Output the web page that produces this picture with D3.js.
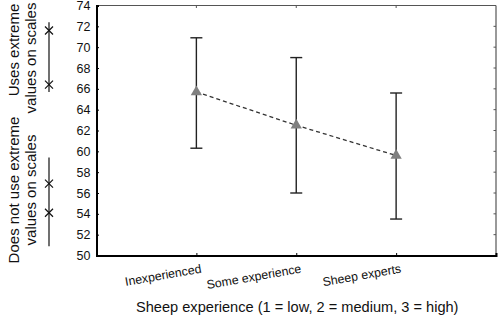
<script src='https://cdn.jsdelivr.net/npm/d3@7'></script>
<style>
  body {margin:0; background:#fff;}
  text {font-family:'Liberation Sans',Arial,sans-serif; fill:#111;}
</style>
<svg id='chart'></svg>
<script>
const categories=['Inexperienced','Some experience','Sheep experts'];
const means=[65.7,62.5,59.6];
const upper=[70.9,69.0,65.6];
const lower=[60.3,56.0,53.5];
const yTicks=d3.range(50,75,2);
// side annotation: extreme-value bars with two marks each
const noteLabels=[['Uses extreme','values on scales'],['Does not use extreme','values on scales']];
const noteRanges=[[65.7,72.4],[50.9,59.4]];
const noteMarks=[[71.6,66.4],[56.9,54.1]];

const W=500,H=319;
var margin={top:5.5,right:4,bottom:63.5,left:96.5},
    width=W-margin.left-margin.right,
    height=H-margin.top-margin.bottom;
var svg=d3.select('#chart').attr('width',W).attr('height',H);
var g=svg.append('g').attr('transform','translate('+margin.left+','+margin.top+')');
var x=d3.scaleLinear().domain([0,4]).range([0,width]),
    y=d3.scaleLinear().domain([50,74]).range([height,0]);

// frame: right and top lighter
g.append('line').attr('x1',0).attr('x2',width).attr('y1',0).attr('y2',0)
 .attr('stroke','#555').attr('stroke-width',1.2);
g.append('line').attr('x1',width).attr('x2',width).attr('y1',0).attr('y2',height)
 .attr('stroke','#555').attr('stroke-width',1.2);
// inner ticks on right and top
g.selectAll('.rt').data(yTicks.slice(1,-1)).enter().append('line')
 .attr('x1',width-2.5).attr('x2',width).attr('y1',d=>y(d)).attr('y2',d=>y(d))
 .attr('stroke','#555');
g.selectAll('.tt').data([1,2,3]).enter().append('line')
 .attr('x1',d=>x(d)).attr('x2',d=>x(d)).attr('y1',0).attr('y2',2.5)
 .attr('stroke','#555');

// left axis
var yAxis=d3.axisLeft(y).tickValues(yTicks).tickSize(-2.5).tickPadding(6);
var ya=g.append('g').call(yAxis);
ya.select('.domain').attr('stroke','#000').attr('stroke-width',2);
ya.selectAll('text').style('font-size','12.5px').attr('fill','#111');

// bottom axis
var xAxis=d3.axisBottom(x).tickValues([1,2,3]).tickSize(-2.5).tickFormat('');
var xa=g.append('g').attr('transform','translate(0,'+height+')').call(xAxis);
xa.select('.domain').attr('stroke','#000').attr('stroke-width',2);
xa.selectAll('.tick line').attr('stroke','#000');
categories.forEach(function(c,i){
  g.append('text').attr('text-anchor','end')
   .attr('transform','translate('+(x(i+1)+5.5)+','+(height+17)+') rotate(-10)')
   .style('font-size','12.3px').text(c);
});
g.append('text').attr('x',x(2)+1).attr('y',height+56).attr('text-anchor','middle')
 .style('font-size','14.6px').text('Sheep experience (1 = low, 2 = medium, 3 = high)');

// error bars
var cap=6;
means.forEach(function(m,i){
  var cx=x(i+1);
  g.append('line').attr('x1',cx).attr('x2',cx).attr('y1',y(upper[i])).attr('y2',y(lower[i]))
   .attr('stroke','#222').attr('stroke-width',1.4);
  [upper[i],lower[i]].forEach(function(v){
    g.append('line').attr('x1',cx-cap).attr('x2',cx+cap).attr('y1',y(v)).attr('y2',y(v))
     .attr('stroke','#222').attr('stroke-width',1.4);
  });
});
var line=d3.line().x((d,i)=>x(i+1)).y(d=>y(d));
g.append('path').datum(means).attr('d',line).attr('fill','none')
 .attr('stroke','#333').attr('stroke-width',1.3).attr('stroke-dasharray','4,3');
g.selectAll('.tri').data(means).enter().append('path')
 .attr('d',d3.symbol().type(d3.symbolTriangle).size(55))
 .attr('transform',(d,i)=>'translate('+x(i+1)+','+y(d)+')')
 .attr('fill','#808080');

// side notes
var nx=49-margin.left;
var noteCenters=[[50,58],[190,190]];
noteRanges.forEach(function(r,i){
  g.append('line').attr('x1',nx).attr('x2',nx).attr('y1',y(r[1])).attr('y2',y(r[0]))
   .attr('stroke','#111').attr('stroke-width',1.2);
  noteMarks[i].forEach(function(v){
    g.append('path')
     .attr('d','M-4,-4L4,4M-4,4L4,-4')
     .attr('transform','translate('+nx+','+y(v)+')')
     .attr('stroke','#111').attr('stroke-width',1.2).attr('fill','none');
  });
  noteLabels[i].forEach(function(t,j){
    g.append('text').attr('text-anchor','middle')
     .attr('transform','translate('+(18.5+j*17-margin.left)+','+(noteCenters[i][j]-margin.top)+') rotate(-90)')
     .style('font-size','15px').text(t);
  });
});
</script>
